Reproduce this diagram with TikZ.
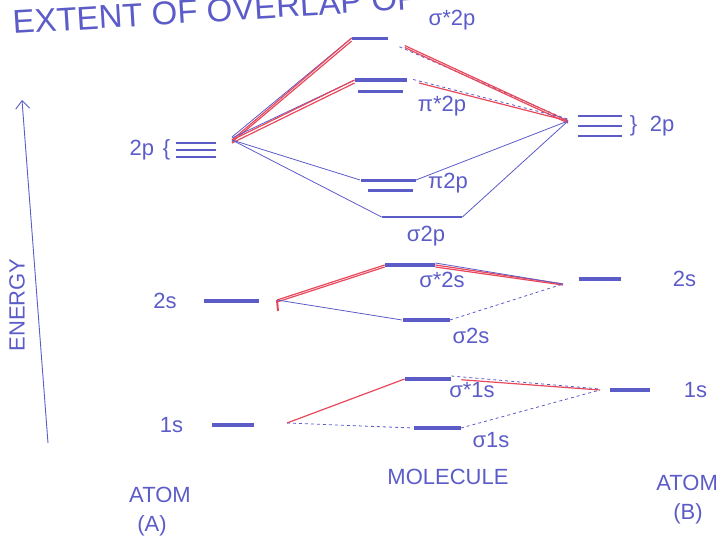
\documentclass[tikz,border=0pt]{standalone}
\usepackage{fontspec}
\setmainfont{Liberation Sans}
\usepackage{tikz}
\usetikzlibrary{arrows.meta, positioning}
\definecolor{ink}{RGB}{92,92,200}
\definecolor{redink}{RGB}{232,72,92}

\begin{document}
\begin{tikzpicture}[x=1pt, y=-1pt, thick, ink,
    >={Straight Barb[length=8pt, width=14pt]},
    orb/.style={fill=ink, inner sep=0pt, minimum height=3.5pt},
    lbl/.style={text=ink, inner sep=1pt, font=\fontsize{22}{26}\selectfont},
    bond/.style={ink, line width=0.8pt},
    anti/.style={redink, line width=1.2pt}]
    \useasboundingbox (0,0) rectangle (723,542);
    \clip (0,0) rectangle (723,542);

    % Title and energy axis
    \node (title) [lbl, anchor=base west, rotate=3.5, font=\fontsize{33}{38}\selectfont] at (12,34) {EXTENT OF OVERLAP OF};
    \coordinate (ebot) at (48,443);
    \coordinate (etop) at (22,100);
    \draw[->, line width=0.9pt] (ebot) -- (etop);
    \node (energy) [lbl, rotate=90] at (17,305) {ENERGY};

    % Atom A
    \node (a1s) [orb, minimum width=42pt] at (233,425) {};
    \node (a2s) [orb, minimum width=55pt] at (231,301) {};
    \node (a2pa) [orb, minimum width=40pt, minimum height=2.2pt] at (196,143) {};
    \node (a2pb) [orb, minimum width=40pt, minimum height=2.2pt] at (196,150) {};
    \node (a2pc) [orb, minimum width=40pt, minimum height=2.2pt] at (196,157) {};
    \node (a1slab) [lbl, left=27pt of a1s] {1s};
    \node (a2slab) [lbl, left=25pt of a2s] {2s};
    \node (a2pbrace) [lbl, left=4pt of a2pb] {\{};
    \node (a2plab) [lbl, left=6pt of a2pbrace] {2p};

    % Atom B
    \node (b1s) [orb, minimum width=40pt] at (630,390) {};
    \node (b2s) [orb, minimum width=42pt] at (600,279) {};
    \node (b2pa) [orb, minimum width=44pt, minimum height=2.2pt] at (600,116) {};
    \node (b2pb) [orb, minimum width=44pt, minimum height=2.2pt] at (600,126) {};
    \node (b2pc) [orb, minimum width=44pt, minimum height=2.2pt] at (600,136) {};
    \node (b1slab) [lbl, right=32pt of b1s] {1s};
    \node (b2slab) [lbl, right=50pt of b2s] {2s};
    \node (b2pbrace) [lbl, right=6pt of b2pb] {\}};
    \node (b2plab) [lbl, right=10pt of b2pbrace] {2p};

    % Molecule
    \node (sig1s) [orb, minimum width=47pt] at (437,428) {};
    \node (sigs1s) [orb, minimum width=46pt] at (428,379) {};
    \node (sig2s) [orb, minimum width=47pt] at (426,320) {};
    \node (sigs2s) [orb, minimum width=50pt] at (410,265) {};
    \node (sig2p) [orb, minimum width=80pt, minimum height=1.8pt] at (422,217) {};
    \node (pi2pa) [orb, minimum width=55pt, minimum height=3pt] at (388,180) {};
    \node (pi2pb) [orb, minimum width=45pt, minimum height=3pt] at (390,190) {};
    \node (pis2pa) [orb, minimum width=52pt] at (381,80) {};
    \node (pis2pb) [orb, minimum width=45pt, minimum height=3pt] at (380,91) {};
    \node (sigs2p) [orb, minimum width=36pt, minimum height=3pt] at (370,38) {};
    \node (sig1slab) [lbl] at (491,440) {σ1s};
    \node (sigs1slab) [lbl] at (472,390) {σ*1s};
    \node (sig2slab) [lbl] at (471,336) {σ2s};
    \node (sigs2slab) [lbl] at (442,280) {σ*2s};
    \node (sig2plab) [lbl] at (426,236) {σ2p};
    \node (pi2plab) [lbl] at (448,183) {π2p};
    \node (pis2plab) [lbl] at (442,106) {π*2p};
    \node (sigs2plab) [lbl] at (452,20) {σ*2p};

    % Footer
    \node (molecule) [lbl] at (448,477) {MOLECULE};
    \node (atoma) [lbl] at (160,495) {ATOM};
    \node (atomalab) [lbl] at (152,526) {(A)};
    \node (atomb) [lbl, anchor=west] at (655,483) {ATOM};
    \node (atomblab) [lbl] at (688,514) {(B)};

    % Meeting points
    \coordinate (pA1s) at (287,423);
    \coordinate (pB1s) at (600,390);
    \coordinate (pA2s) at (277,300);
    \coordinate (pB2s) at (563,284);
    \coordinate (pA2p) at (232,140);
    \coordinate (pB2p) at (568,121);

    % 1s overlap
    \draw[anti] (pA1s) -- (sigs1s.west);
    \draw[bond, dashed] (pA1s) -- (sig1s.west);
    \draw[anti, shorten <=10pt] (sigs1s.east) -- (pB1s);
    \draw[bond, dashed] ([yshift=3pt]sigs1s.east) -- ([yshift=1pt]pB1s);
    \draw[bond, dashed] (sig1s.east) -- (pB1s);

    % 2s overlap
    \draw[anti, line width=2pt] (pA2s) -- ++(1,11);
    \draw[anti] (pA2s) -- (sigs2s.west);
    \draw[anti] ([yshift=-2pt]pA2s) -- ([yshift=-2pt]sigs2s.west);
    \draw[bond] (pA2s) -- (sig2s.west);
    \draw[anti] (sigs2s.east) -- (pB2s);
    \draw[anti] ([yshift=-2pt]sigs2s.east) -- ([yshift=-1pt]pB2s);
    \draw[bond] ([yshift=2pt]sigs2s.east) -- (pB2s);
    \draw[bond, dashed] (sig2s.east) -- (pB2s);

    % 2p overlap
    \draw[bond] ([yshift=3pt]pA2p) -- (sigs2p.west);
    \draw[anti] (pA2p) -- (sigs2p.west);
    \draw[anti] ([yshift=-2pt]pA2p) -- ([yshift=-3pt]sigs2p.west);
    \draw[bond] ([yshift=2pt]pA2p) -- (pis2pa.west);
    \draw[anti] (pA2p) -- (pis2pa.west);
    \draw[anti] ([yshift=-3pt]pA2p) -- ([yshift=-3pt]pis2pa.west);
    \draw[bond] (pA2p) -- (pi2pa.west);
    \draw[bond] (pA2p) -- (sig2p.west);
    \draw[bond, dashed, shorten <=12pt] ([yshift=-4pt]sigs2p.east) -- ([yshift=1pt]pB2p);
    \draw[anti, shorten <=18pt] (sigs2p.east) -- (pB2p);
    \draw[anti, shorten <=18pt] ([yshift=-2pt]sigs2p.east) -- ([yshift=-2pt]pB2p);
    \draw[bond, dashed, shorten <=6pt] ([yshift=2pt]pis2pa.east) -- ([yshift=2pt]pB2p);
    \draw[anti, shorten <=12pt] (pis2pa.east) -- (pB2p);
    \draw[bond] (pi2pa.east) -- (pB2p);
    \draw[bond] (sig2p.east) -- (pB2p);
\end{tikzpicture}
\end{document}
